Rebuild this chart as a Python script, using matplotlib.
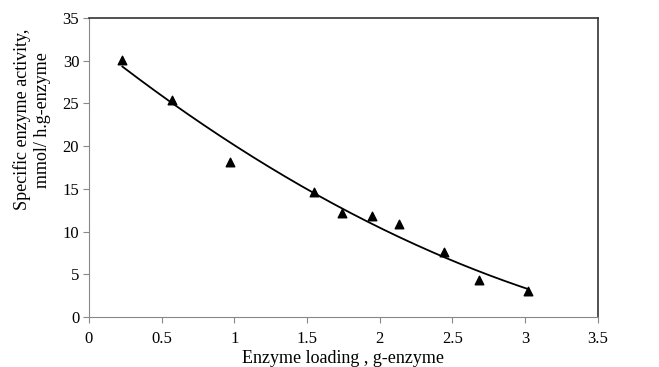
import numpy as np
import matplotlib
matplotlib.use("Agg")
import matplotlib.pyplot as plt

plt.rcParams["font.family"] = ["Liberation Serif", "DejaVu Serif"]

# measured points
loading = [0.23, 0.57, 0.97, 1.55, 1.74, 1.95, 2.13, 2.44, 2.68, 3.02]
activity = [30.1, 25.4, 18.1, 14.6, 12.2, 11.8, 10.9, 7.6, 4.3, 3.0]

# second order trendline through the points (as in the spreadsheet)
coef = np.polyfit(loading, activity, 2)
xfit = np.linspace(min(loading), max(loading), 200)
yfit = np.polyval(coef, xfit)

fig = plt.figure(figsize=(6.59, 3.67), dpi=100)
ax = fig.add_axes([0.135, 0.136, 0.772, 0.815])

ax.plot(xfit, yfit, color="black", linewidth=1.3)
ax.scatter(loading, activity, marker="^", s=38, color="black", zorder=3)

ax.set_xlim(0, 3.5)
ax.set_ylim(0, 35)
ax.set_xticks(np.arange(0, 3.51, 0.5))
ax.set_xticklabels(["0", "0.5", "1", "1.5", "2", "2.5", "3", "3.5"])
ax.set_yticks(range(0, 36, 5))

for side in ("left", "bottom"):
    ax.spines[side].set_color("#888888")
for side in ("top", "right"):
    ax.spines[side].set_color("#333333")
    ax.spines[side].set_linewidth(1.2)

ax.tick_params(axis="both", direction="out", length=4, color="#888888",
               labelsize=12, pad=3)
ax.tick_params(axis="x", pad=6)

ax.set_xlabel("Enzyme loading , g-enzyme", fontsize=13, labelpad=2)
ax.set_ylabel("Specific enzyme activity,\nmmol/ h.g-enzyme", fontsize=13)
ax.yaxis.set_label_coords(-0.075, 0.66)

fig.savefig("out.png", dpi=100)
